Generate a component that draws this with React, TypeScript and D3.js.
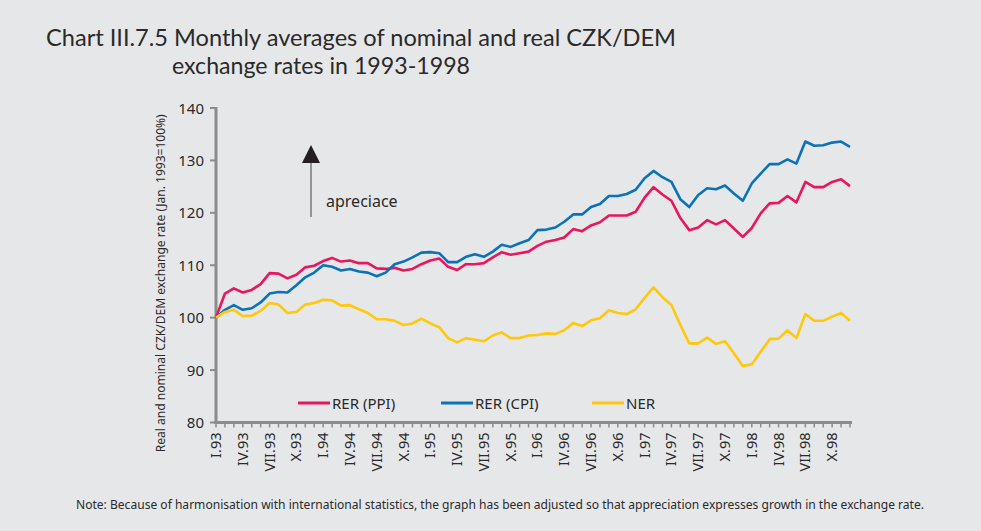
import React from "react";
import * as d3 from "d3";

const monthsRoman = ["I", "II", "III", "IV", "V", "VI", "VII", "VIII", "IX", "X", "XI", "XII"];
const years = ["93", "94", "95", "96", "97", "98"];
const months: string[] = years.flatMap((y) => monthsRoman.map((m) => `${m}.${y}`));

const rerPPI = [
  100, 104.6, 105.6, 104.8, 105.3, 106.4, 108.5, 108.4, 107.5, 108.2, 109.6, 109.9,
  110.8, 111.4, 110.7, 110.9, 110.4, 110.4, 109.4, 109.3, 109.5, 109.0, 109.3, 110.2,
  110.9, 111.3, 109.7, 109.1, 110.2, 110.2, 110.4, 111.5, 112.5, 112.0, 112.3, 112.6,
  113.7, 114.5, 114.8, 115.3, 116.9, 116.5, 117.6, 118.2, 119.5, 119.5, 119.5, 120.2,
  122.9, 124.9, 123.5, 122.3, 119.0, 116.7, 117.2, 118.6, 117.8, 118.6, 117.0, 115.4,
  117.1, 119.9, 121.8, 121.9, 123.2, 122.0, 125.9, 124.9, 124.9, 125.9, 126.4, 125.1,
];

const rerCPI = [
  100, 101.5, 102.4, 101.5, 101.8, 102.9, 104.6, 104.9, 104.8, 106.2, 107.7, 108.6,
  110.0, 109.7, 109.0, 109.3, 108.8, 108.6, 107.9, 108.6, 110.2, 110.7, 111.5, 112.4,
  112.5, 112.3, 110.6, 110.6, 111.6, 112.1, 111.6, 112.6, 113.9, 113.5, 114.2, 114.8,
  116.7, 116.8, 117.2, 118.3, 119.7, 119.7, 121.1, 121.7, 123.2, 123.2, 123.6, 124.4,
  126.6, 128.0, 126.8, 125.9, 122.6, 121.1, 123.4, 124.7, 124.5, 125.2, 123.7, 122.3,
  125.6, 127.5, 129.3, 129.3, 130.2, 129.4, 133.6, 132.8, 132.9, 133.4, 133.6, 132.6,
];

const ner = [
  100, 101.1, 101.5, 100.3, 100.4, 101.3, 102.8, 102.5, 100.9, 101.1, 102.5, 102.8,
  103.4, 103.3, 102.3, 102.4, 101.6, 100.9, 99.7, 99.7, 99.4, 98.6, 98.9, 99.8,
  98.9, 98.2, 96.1, 95.3, 96.1, 95.8, 95.5, 96.6, 97.2, 96.1, 96.1, 96.6,
  96.7, 97.0, 96.9, 97.6, 99.0, 98.4, 99.5, 99.9, 101.4, 100.9, 100.7, 101.6,
  103.8, 105.8, 103.9, 102.4, 98.6, 95.1, 95.1, 96.2, 95.0, 95.5, 93.2, 90.8,
  91.1, 93.5, 95.9, 96.0, 97.6, 96.1, 100.7, 99.4, 99.4, 100.2, 100.9, 99.4,
];

const yTicks = [80, 90, 100, 110, 120, 130, 140];

const seriesNames = ["RER (PPI)", "RER (CPI)", "NER"];
const seriesColors = ["#e8175d", "#0a72ba", "#ffc80b"];
const seriesData = [rerPPI, rerCPI, ner];

const W = 981;
const H = 531;
const FONT = "'Noto Sans', 'DejaVu Sans', sans-serif";
const TITLE_FONT = "Lato, 'Noto Sans', sans-serif";

export default function App() {
  const x = d3.scaleLinear().domain([0, months.length - 1]).range([216, 850]);
  const y = d3.scaleLinear().domain([80, 140]).range([422.5, 108]);
  const line = d3
    .line<number>()
    .x((_, i) => x(i))
    .y((d) => y(d));

  const axisColor = "#8c8c8c";
  const textColor = "#2a2a2a";

  const legendX = [298, 441, 592];
  const legendY = 403;

  return (
    <svg
      width={W}
      height={H}
      style={{ position: "absolute", left: 0, top: 0, background: "#e6e7e9" }}
    >
      <rect x={0} y={0} width={W} height={H} fill="#e6e7e9" />
      {/* Title */}
      <text x={46} y={46} fontFamily={TITLE_FONT} fontSize={23} fill={textColor} textLength={630} lengthAdjust="spacingAndGlyphs">
        Chart III.7.5 Monthly averages of nominal and real CZK/DEM
      </text>
      <text x={172} y={74} fontFamily={TITLE_FONT} fontSize={23} fill={textColor} textLength={298} lengthAdjust="spacingAndGlyphs">
        exchange rates in 1993-1998
      </text>

      {/* Y axis */}
      <line x1={216} x2={216} y1={y(140) - 1} y2={y(80) + 1.5} stroke={axisColor} strokeWidth={3} />
      {yTicks.map((t) => (
        <g key={t}>
          <line x1={210} x2={216} y1={y(t)} y2={y(t)} stroke={axisColor} strokeWidth={2} />
          <text x={204} y={y(t) + 5.5} textAnchor="end" fontFamily={FONT} fontSize={15} fill={textColor}>
            {t}
          </text>
        </g>
      ))}
      <text
        transform={`translate(165,${(y(80) + y(140)) / 2 + 18}) rotate(-90)`}
        textAnchor="middle"
        fontFamily={FONT}
        fontSize={12.5}
        fill={textColor}
        textLength={338}
        lengthAdjust="spacingAndGlyphs"
      >
        Real and nominal CZK/DEM exchange rate (Jan. 1993=100%)
      </text>

      {/* X axis */}
      <line x1={214.5} x2={852} y1={y(80)} y2={y(80)} stroke={axisColor} strokeWidth={3} />
      {months.map((m, i) => (
        <line key={m} x1={x(i)} x2={x(i)} y1={y(80)} y2={y(80) + 5} stroke={axisColor} strokeWidth={1.5} />
      ))}
      {months.map((m, i) =>
        i % 3 === 0 ? (
          <text
            key={"l" + m}
            transform={`translate(${x(i) + 5},${y(80) + 10}) rotate(-90)`}
            textAnchor="end"
            fontFamily={FONT}
            fontSize={14.5}
            fill={textColor}
          >
            {m}
          </text>
        ) : null
      )}

      {/* Series */}
      {seriesData.map((d, k) => (
        <path
          key={seriesNames[k]}
          d={line(d) || ""}
          fill="none"
          stroke={seriesColors[k]}
          strokeWidth={2.6}
          strokeLinejoin="round"
        />
      ))}

      {/* Arrow annotation */}
      <line x1={311} x2={311} y1={160} y2={217} stroke="#7a7a7a" strokeWidth={1.5} />
      <path d="M302,163 L320,163 L311,145 Z" fill="#231f20" />
      <text x={326} y={207} fontFamily={FONT} fontSize={16} fill={textColor}>
        apreciace
      </text>

      {/* Legend */}
      {seriesNames.map((n, k) => (
        <g key={"lg" + n}>
          <line x1={legendX[k]} x2={legendX[k] + 32} y1={legendY} y2={legendY} stroke={seriesColors[k]} strokeWidth={3} />
          <text x={legendX[k] + 34} y={legendY + 5.5} fontFamily={FONT} fontSize={15} fill={textColor}>
            {n}
          </text>
        </g>
      ))}

      {/* Note */}
      <text x={76} y={509} fontFamily={FONT} fontSize={12.5} fill={textColor} textLength={848} lengthAdjust="spacingAndGlyphs">
        Note: Because of harmonisation with international statistics, the graph has been adjusted so that appreciation expresses growth in the exchange rate.
      </text>
    </svg>
  );
}
